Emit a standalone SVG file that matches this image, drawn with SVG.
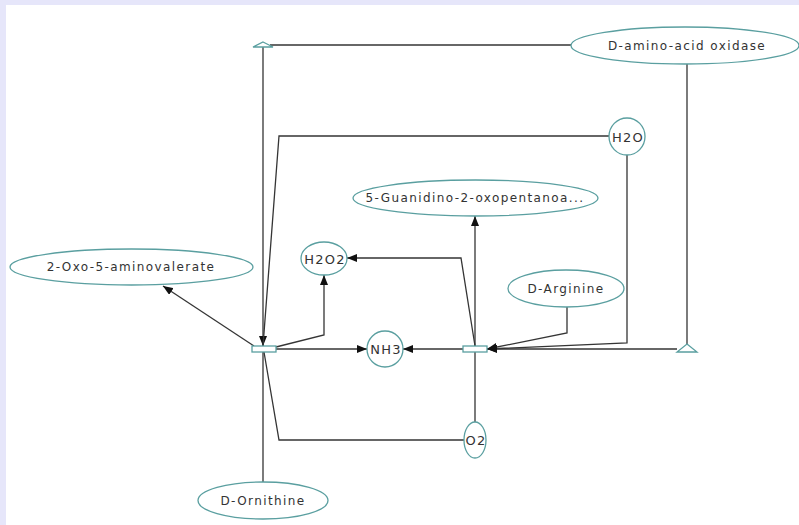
<svg xmlns="http://www.w3.org/2000/svg" width="799" height="525" viewBox="0 0 799 525">
<defs>
<style>
.node{fill:#ffffff;stroke:#5a9fa0;stroke-width:1.3}
.lbl{font-family:"DejaVu Sans","Verdana",sans-serif;font-size:12px;letter-spacing:1.4px;fill:#333333;text-anchor:middle;dominant-baseline:central}
.small{font-size:13px;letter-spacing:1.2px}
.edge{fill:none;stroke:#353535;stroke-width:1.3}
.arr{marker-end:url(#ah)}
</style>
<marker id="ah" viewBox="0 0 10 8" refX="10" refY="4" markerWidth="10" markerHeight="8" markerUnits="userSpaceOnUse" orient="auto">
<path d="M0,0 L10,4 L0,8 Z" fill="#111111"/>
</marker>
</defs>
<rect x="0" y="0" width="799" height="525" fill="#e6e6fa"/>
<rect x="6" y="5" width="793" height="520" fill="#ffffff"/>

<g id="connectors">
<polyline class="edge" points="571,45 270,45"/>
<polyline class="edge arr" points="263,47 263,346"/>
<polyline class="edge" points="687,64 687,346"/>
<polyline class="edge arr" points="677,349 487,349"/>
<polyline class="edge" points="609,136 279,136 263,346"/>
<polyline class="edge arr" points="627,155 627,343 487,349"/>
<polyline class="edge" points="464,440 279,440 264,352"/>
<polyline class="edge" points="475,422 475,352"/>
<polyline class="edge" points="263,482 263,352"/>
<polyline class="edge arr" points="567,307 567,333 487,349"/>
<polyline class="edge arr" points="254,346 163,286"/>
<polyline class="edge arr" points="276,347 324,335 324,275"/>
<polyline class="edge arr" points="276,349 367,349"/>
<polyline class="edge arr" points="463,349 403,349"/>
<polyline class="edge arr" points="475,346 461,258 347,258"/>
<polyline class="edge arr" points="475,346 475,216"/>
</g>

<g id="anchor-top"><path class="node" d="M263,42 L273,47 L253,47 Z"/></g>
<g id="anchor-right"><path class="node" d="M687,344 L697,352 L677,352 Z"/></g>

<g id="process-left"><rect class="node" x="252" y="346" width="24" height="6"/></g>
<g id="process-right"><rect class="node" x="463" y="346" width="24" height="6"/></g>

<g id="d-amino-acid-oxidase">
<ellipse class="node" cx="685" cy="45.5" rx="114" ry="18.5"/>
<text class="lbl" x="687" y="46">D-amino-acid oxidase</text>
</g>
<g id="h2o">
<ellipse class="node" cx="627" cy="136.5" rx="18" ry="18.5"/>
<text class="lbl small" x="628" y="137">H2O</text>
</g>
<g id="guanidino">
<ellipse class="node" cx="475.5" cy="198" rx="122.5" ry="18"/>
<text class="lbl" x="475" y="198">5-Guanidino-2-oxopentanoa...</text>
</g>
<g id="oxo-aminovalerate">
<ellipse class="node" cx="131.5" cy="267" rx="121.5" ry="18"/>
<text class="lbl" x="131" y="267">2-Oxo-5-aminovalerate</text>
</g>
<g id="h2o2">
<ellipse class="node" cx="324" cy="258.5" rx="23" ry="16.5"/>
<text class="lbl small" x="325" y="259">H2O2</text>
</g>
<g id="d-arginine">
<ellipse class="node" cx="566" cy="288.5" rx="58" ry="18.5"/>
<text class="lbl" x="566" y="289">D-Arginine</text>
</g>
<g id="nh3">
<ellipse class="node" cx="385" cy="349" rx="18" ry="18"/>
<text class="lbl small" x="386" y="349">NH3</text>
</g>
<g id="o2">
<ellipse class="node" cx="475" cy="440" rx="11" ry="18"/>
<text class="lbl small" x="476" y="440">O2</text>
</g>
<g id="d-ornithine">
<ellipse class="node" cx="263" cy="500.5" rx="65" ry="18.5"/>
<text class="lbl" x="263" y="501">D-Ornithine</text>
</g>
</svg>
